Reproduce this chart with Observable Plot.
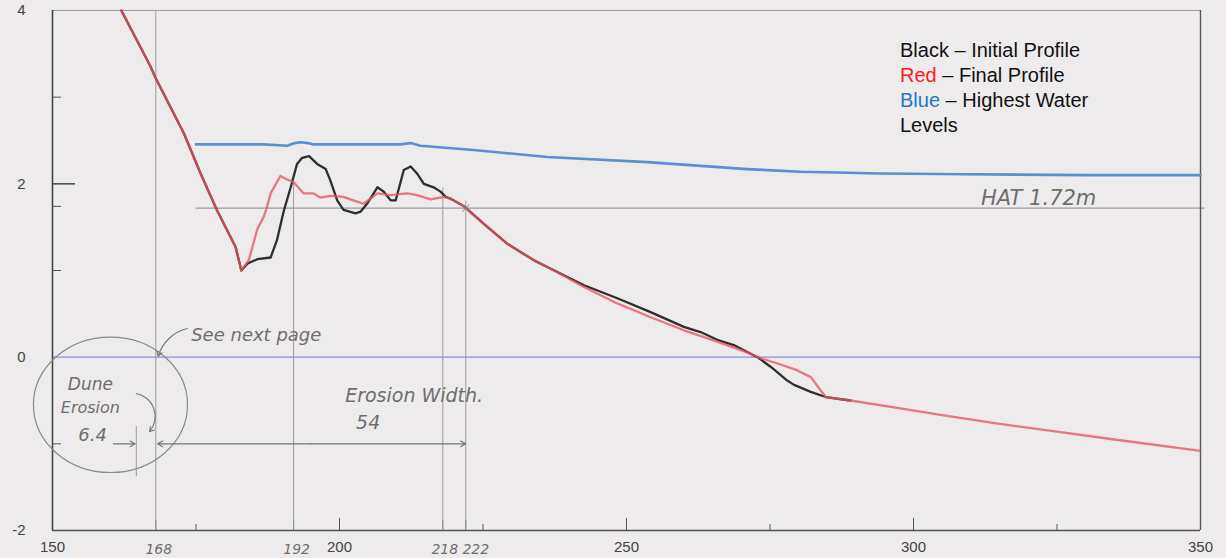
<!DOCTYPE html>
<html><head><meta charset="utf-8">
<script src="https://cdn.jsdelivr.net/npm/d3@7"></script>
<script src="https://cdn.jsdelivr.net/npm/@observablehq/plot@0.6"></script>
<style>
html,body{margin:0;padding:0;background:#eeebed;}
#wrap{position:relative;width:1226px;height:558px;overflow:hidden;}
#legend{position:absolute;left:900px;top:38px;font-family:"Liberation Sans",Arial,sans-serif;font-size:20px;line-height:25px;color:#111;}
</style></head><body>
<div id="wrap"><div id="chart"></div>
<div id="legend"><div>Black – Initial Profile</div><div><span style="color:#ff1a1a">Red</span> – Final Profile</div><div><span style="color:#1f78c8">Blue</span> – Highest Water</div><div>Levels</div></div>
</div>
<script>
// Initial profile (black)
const initialDist = [162.0,167.1,167.9,172.9,175.8,178.7,181.9,182.9,184.0,185.7,188.0,189.1,190.3,191.5,192.6,193.5,194.7,196.1,197.6,198.4,199.6,200.7,202.8,203.7,204.8,206.6,207.7,208.9,209.8,211.2,212.4,213.5,214.7,216.4,217.6,218.5,219.3,221.7,225.1,229.2,233.8,236.8,242.6,248.4,254.2,260.0,262.9,265.8,268.7,272.8,275.1,276.2,278.0,279.2,282.1,284.7,289.0];
const initialElev = [4.0,3.35,3.23,2.58,2.12,1.69,1.27,1.0,1.08,1.13,1.15,1.35,1.69,1.96,2.23,2.30,2.32,2.23,2.17,2.04,1.81,1.70,1.66,1.68,1.77,1.96,1.91,1.81,1.81,2.16,2.20,2.12,2.00,1.96,1.91,1.85,1.83,1.74,1.54,1.31,1.12,1.02,0.83,0.68,0.52,0.35,0.29,0.20,0.14,0.0,-0.11,-0.17,-0.27,-0.32,-0.40,-0.46,-0.50];
// Final profile (red)
const finalDist = [162.0,167.1,167.9,172.9,175.8,178.7,181.9,182.9,184.2,185.7,186.8,187.4,188.0,189.7,190.9,192.0,193.7,195.5,196.7,198.4,200.7,202.4,204.2,206.6,208.9,211.8,213.5,215.9,218.2,219.3,221.7,225.1,229.2,233.8,236.8,242.6,248.4,254.2,260.0,265.8,271.6,273.3,276.2,279.7,282.1,284.7,289.0,297.7,305.0,315.0,325.0,335.0,350.0];
const finalElev = [4.0,3.35,3.23,2.58,2.12,1.69,1.27,1.0,1.12,1.48,1.62,1.74,1.89,2.09,2.05,2.02,1.89,1.89,1.84,1.86,1.85,1.81,1.77,1.89,1.87,1.89,1.87,1.82,1.85,1.83,1.74,1.54,1.31,1.12,1.02,0.81,0.62,0.46,0.31,0.18,0.04,-0.01,-0.07,-0.15,-0.23,-0.46,-0.50,-0.59,-0.67,-0.77,-0.86,-0.95,-1.08];
// Highest water levels (blue)
const waterDist = [175.0,186.8,190.9,192.2,193.2,194.5,195.5,210.6,212.4,214.1,223.4,236.2,253.6,271.0,280.3,294.3,309.4,330.3,350.0];
const waterLevel = [2.455,2.455,2.44,2.47,2.48,2.47,2.455,2.455,2.47,2.44,2.39,2.31,2.25,2.17,2.14,2.12,2.11,2.10,2.10];

// Axes ticks and labels
const xLabelValues = [150,200,250,300,350];
const xMajorTicks = [200,250,300];
const xMinorTicks = [175,225,275,325];
const yLabelValues = [-2,0,2,4];
const yMinorTicks = [-1,1,1.74,3];
const yMajorTicks = [2];

// Hand annotations
const guideDist = [168,192,218,222];
const guideTop = [4,2.1,1.95,1.8];
const handTickLabels = ["168","192","218","222"];
const hatLevel = 1.72;

const hand = "DejaVu Sans, sans-serif";
const initialData = initialDist.map((d,i)=>({d, z:initialElev[i]}));
const finalData = finalDist.map((d,i)=>({d, z:finalElev[i]}));
const waterData = waterDist.map((d,i)=>({d, z:waterLevel[i]}));
const guides = guideDist.map((d,i)=>({d, top:guideTop[i], label:handTickLabels[i]}));

const notes = [
  {x:156.6, y:-0.32, t:"Dune", s:17},
  {x:156.6, y:-0.58, t:"Erosion", s:16},
  {x:157.0, y:-0.90, t:"6.4", s:18},
  {x:185.5, y:0.25, t:"See next page", s:18},
  {x:213.0, y:-0.45, t:"Erosion Width.", s:19},
  {x:205.0, y:-0.76, t:"54", s:19},
  {x:321.8, y:1.83, t:"HAT 1.72m", s:21}
];

const ellipse = {draw(ctx, size) {
  const r = Math.sqrt(size / Math.PI), rx = r * 1.07, ry = r * 0.94, k = 0.5523;
  ctx.moveTo(rx, 0);
  ctx.bezierCurveTo(rx, ry*k, rx*k, ry, 0, ry);
  ctx.bezierCurveTo(-rx*k, ry, -rx, ry*k, -rx, 0);
  ctx.bezierCurveTo(-rx, -ry*k, -rx*k, -ry, 0, -ry);
  ctx.bezierCurveTo(rx*k, -ry, rx, -ry*k, rx, 0);
  ctx.closePath();
}};

const handText = {fontStyle:"italic", fontWeight:300, fontFamily:hand, fill:"#6e6e6e"};

const chart = Plot.plot({
  width: 1226, height: 558,
  marginLeft: 52, marginRight: 26, marginTop: 10, marginBottom: 28,
  x: {domain:[150,350], axis:null},
  y: {domain:[-2,4], axis:null},
  style: {background:"transparent", fontFamily:"Liberation Sans, Arial, sans-serif", color:"#444"},
  marks: [
    // guide lines
    Plot.ruleX(guides, {x:"d", y1:"top", y2:-2, stroke:"#9c9a9c", strokeWidth:1}),
    Plot.ruleX([164.6], {y1:-0.8, y2:-1.38, stroke:"#9c9a9c"}),
    Plot.ruleY([hatLevel], {x1:175, x2:350.8, stroke:"#9d9b9d", strokeWidth:1.2}),
    Plot.ruleY([0], {x1:150, x2:350, stroke:"#8090d8", strokeWidth:1.3}),
    // frame
    Plot.ruleY([4], {stroke:"#9a9898", strokeWidth:1.2}),
    Plot.ruleY([-2], {stroke:"#555", strokeWidth:1.4}),
    Plot.ruleX([150], {stroke:"#444", strokeWidth:1.6}),
    Plot.ruleX([350], {stroke:"#555", strokeWidth:1.4}),
    // ticks
    Plot.axisY(yMinorTicks, {anchor:"left", tickSize:-9, fill:"none", stroke:"#555", label:null}),
    Plot.axisY(yMajorTicks, {anchor:"left", tickSize:-23, fill:"none", stroke:"#444", strokeWidth:1.5, label:null}),
    Plot.axisY(yLabelValues, {anchor:"left", tickSize:0, tickPadding:27, fontSize:15, fill:"#444", label:null, tickFormat:d => `${d}`}),
    Plot.axisX(xMajorTicks, {anchor:"bottom", tickSize:-12, fill:"none", stroke:"#555", label:null}),
    Plot.axisX(xMinorTicks, {anchor:"bottom", tickSize:-6, fill:"none", stroke:"#555", label:null}),
    Plot.axisX(guideDist, {anchor:"bottom", tickSize:-10, fill:"none", stroke:"#888", label:null}),
    Plot.axisX(xLabelValues, {anchor:"bottom", tickSize:0, tickPadding:11, fontSize:15, fill:"#444", label:null, tickFormat:d => `${d}`}),
    // hand tick labels
    Plot.text(guides.slice(0,2), {x:"d", y:-2, dy:19, dx:3, text:"label", fontSize:14, ...handText}),
    Plot.text(guides.slice(2,3), {x:"d", y:-2, dy:19, dx:2, text:"label", fontSize:14, ...handText}),
    Plot.text(guides.slice(3), {x:"d", y:-2, dy:19, dx:10, text:"label", fontSize:14, ...handText}),
    // data lines
    Plot.line(waterData, {x:"d", y:"z", stroke:"#5b8fd2", strokeWidth:2.6}),
    Plot.line(initialData, {x:"d", y:"z", stroke:"#2e2e2e", strokeWidth:2.3}),
    Plot.line(finalData, {x:"d", y:"z", stroke:"#e8545f", strokeWidth:2.3, strokeOpacity:0.78}),
    Plot.dot([{x:222, y:hatLevel}], {x:"x", y:"y", symbol:"times", r:3.5, stroke:"#888", strokeWidth:1}),
    // annotations
    Plot.dot([{x:160.1, y:-0.55}], {x:"x", y:"y", r:72, symbol:ellipse, stroke:"#8a8a8a", strokeWidth:1.2, fill:"none"}),
    Plot.text(notes, {x:"x", y:"y", text:"t", fontSize:"s", ...handText}),
    Plot.arrow([{x1:195, x2:168.3, y:-1.0}, {x1:195, x2:222, y:-1.0}], {x1:"x1", x2:"x2", y1:"y", y2:"y", stroke:"#777", strokeWidth:1.1, headLength:8}),
    Plot.arrow([{x1:160.6, x2:164.4, y:-1.0}], {x1:"x1", x2:"x2", y1:"y", y2:"y", stroke:"#777", strokeWidth:1.1, headLength:8}),
    Plot.arrow([{x1:173.5, y1:0.33, x2:168.4, y2:0.01}], {x1:"x1", y1:"y1", x2:"x2", y2:"y2", bend:-30, stroke:"#777", strokeWidth:1.1, headLength:7}),
    Plot.arrow([{x1:164.6, y1:-0.42, x2:166.9, y2:-0.86}], {x1:"x1", y1:"y1", x2:"x2", y2:"y2", bend:60, stroke:"#777", strokeWidth:1.1, headLength:7})
  ]
});
document.getElementById("chart").appendChild(chart);
</script>
</body></html>
